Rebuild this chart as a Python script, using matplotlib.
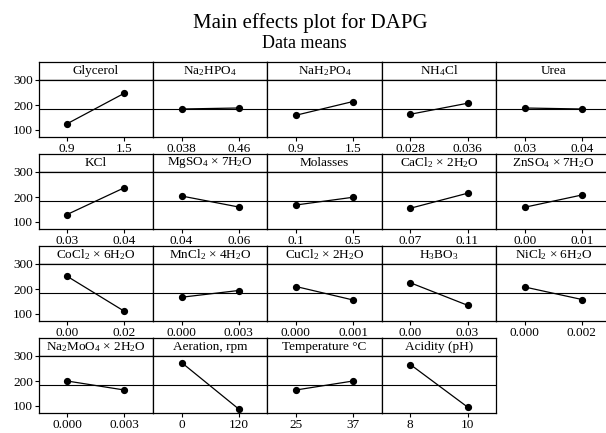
import numpy as np
import matplotlib
matplotlib.use("Agg")
from matplotlib import pyplot as plt

plt.rcParams['font.family'] = ['Liberation Serif', 'DejaVu Serif']
plt.rcParams['mathtext.fontset'] = 'custom'
plt.rcParams['mathtext.rm'] = 'Liberation Serif'
plt.rcParams['mathtext.it'] = 'Liberation Serif:italic'
plt.rcParams['mathtext.default'] = 'regular'

# factor names (strip labels), level tick labels and the two level means
factors = ["Glycerol", "Na$_2$HPO$_4$", "NaH$_2$PO$_4$", "NH$_4$Cl", "Urea",
           "KCl", "MgSO$_4$ × 7H$_2$O", "Molasses", "CaCl$_2$ × 2H$_2$O", "ZnSO$_4$ × 7H$_2$O",
           "CoCl$_2$ × 6H$_2$O", "MnCl$_2$ × 4H$_2$O", "CuCl$_2$ × 2H$_2$O", "H$_3$BO$_3$", "NiCl$_2$ × 6H$_2$O",
           "Na$_2$MoO$_4$ × 2H$_2$O", "Aeration, rpm", "Temperature °C", "Acidity (pH)"]
levels = [["0.9", "1.5"], ["0.038", "0.46"], ["0.9", "1.5"], ["0.028", "0.036"], ["0.03", "0.04"],
          ["0.03", "0.04"], ["0.04", "0.06"], ["0.1", "0.5"], ["0.07", "0.11"], ["0.00", "0.01"],
          ["0.00", "0.02"], ["0.000", "0.003"], ["0.000", "0.001"], ["0.00", "0.03"], ["0.000", "0.002"],
          ["0.000", "0.003"], ["0", "120"], ["25", "37"], ["8", "10"]]
low_mean = [125, 184, 159, 163, 188,
            130, 204, 168, 155, 159,
            251, 167, 210, 225, 208,
            200, 274, 164, 266]
high_mean = [247, 188, 214, 207, 184,
             237, 160, 199, 215, 208,
             111, 194, 156, 135, 158,
             164, 88, 200, 96]
grand_mean = np.mean(low_mean + high_mean)

W, H = 606, 433
fig = plt.figure(figsize=(W / 100, H / 100), dpi=100)


def box(x0, y0, x1, y1):
    return [x0 / W, 1 - y1 / H, (x1 - x0) / W, (y1 - y0) / H]


left, pw = 38.5, 114.4
strip_top, plot_top, plot_bot, period = 62, 80, 137, 92
lw = 0.9

for i, name in enumerate(factors):
    r, c = divmod(i, 5)
    x0 = left + c * pw
    x1 = x0 + pw
    oy = r * period

    # strip with the factor name
    sax = fig.add_axes(box(x0, strip_top + oy, x1, plot_top + oy))
    sax.set_xticks([])
    sax.set_yticks([])
    for s in sax.spines.values():
        s.set_linewidth(lw)
    sax.text(0.5, 0.5, name, ha='center', va='center', fontsize=9.5,
             transform=sax.transAxes)

    ax = fig.add_axes(box(x0, plot_top + oy, x1, plot_bot + oy))
    ax.axhline(grand_mean, color='black', lw=0.8)
    ax.plot([0, 1], [low_mean[i], high_mean[i]], color='black', lw=0.9,
            marker='o', markersize=4.2)
    ax.set_xlim(-0.5, 1.5)
    ax.set_ylim(72, 300)
    ax.set_xticks([0, 1])
    ax.set_xticklabels(levels[i], fontsize=9.5)
    ax.set_yticks([100, 200, 300])
    if c == 0:
        ax.set_yticklabels(["100", "200", "300"], fontsize=9.5)
    else:
        ax.tick_params(axis='y', left=False, labelleft=False)
    ax.tick_params(length=3, width=0.8, pad=1)
    for s in ax.spines.values():
        s.set_linewidth(lw)

fig.text(310 / W, 1 - 23 / H, "Main effects plot for DAPG", ha='center', va='center', fontsize=15)
fig.text(304 / W, 1 - 44 / H, "Data means", ha='center', va='center', fontsize=13)

fig.savefig("out.png", dpi=100)
